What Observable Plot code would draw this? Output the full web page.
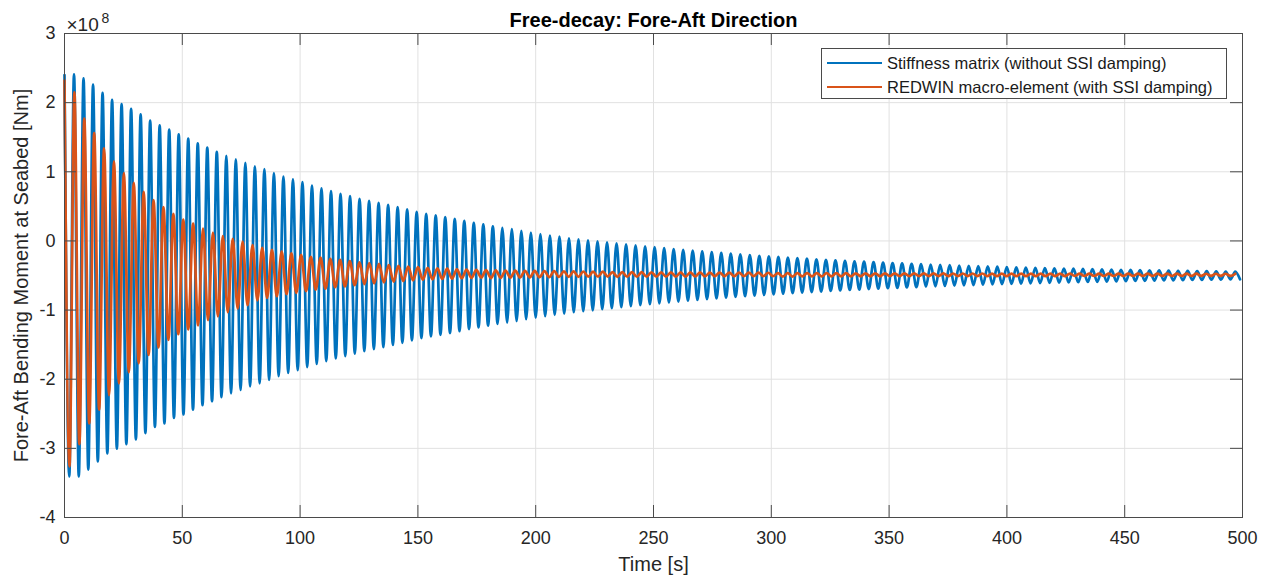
<!DOCTYPE html>
<html>
<head>
<meta charset="utf-8">
<script src="https://cdn.jsdelivr.net/npm/d3@7"></script>
<script src="https://cdn.jsdelivr.net/npm/@observablehq/plot@0.6"></script>
<style>
  html, body { margin: 0; padding: 0; background: #fff; }
  #wrap { position: relative; width: 1269px; height: 578px; font-family: "Liberation Sans", Arial, Helvetica, sans-serif; }
  #legend { position: absolute; left: 821px; top: 48px; width: 406px; height: 51px; border: 1px solid #4a4a4a; background: #fff; box-sizing: border-box; }
  .lrow { position: absolute; left: 0; height: 20px; display: flex; align-items: center; font-size: 16.5px; color: #1a1a1a; white-space: nowrap; }
  .lrow svg { margin-left: 5px; margin-right: 5px; }
</style>
</head>
<body>
<div id="wrap"></div>
<script>
// ---- Axis ticks ----
const xTicks = [0, 50, 100, 150, 200, 250, 300, 350, 400, 450, 500];
const yTicks = [-4, -3, -2, -1, 0, 1, 2, 3];

// ---- Series labels / colours ----
const seriesNames = ["Stiffness matrix (without SSI damping)", "REDWIN macro-element (with SSI damping)"];
const seriesColors = ["#0072BD", "#D95319"];

// ---- Blue: stiffness matrix, successive maxima / minima (x10^8 Nm) ----
const bluePeriodHalf = 2.02; // s between successive extrema
const blueUpper = [2.40, 2.41, 2.35, 2.26, 2.14, 2.04, 1.98, 1.91, 1.83, 1.74,
  1.67, 1.61, 1.54, 1.48, 1.41, 1.35, 1.29, 1.23, 1.18, 1.13,
  1.08, 1.04, 0.98, 0.93, 0.89, 0.85, 0.80, 0.76, 0.72, 0.68,
  0.65, 0.61, 0.58, 0.55, 0.52, 0.49, 0.456, 0.42, 0.39, 0.37,
  0.345, 0.32, 0.29, 0.26, 0.24, 0.21, 0.19, 0.17, 0.146, 0.12,
  0.10, 0.078, 0.063, 0.039, 0.024, 0.01, -0.005, -0.02, -0.034, -0.049,
  -0.063, -0.077, -0.091, -0.104, -0.117, -0.129, -0.141, -0.152, -0.163, -0.174,
  -0.185, -0.195, -0.205, -0.214, -0.223, -0.232, -0.241, -0.249, -0.257, -0.265,
  -0.272, -0.280, -0.287, -0.294, -0.300, -0.307, -0.313, -0.319, -0.325, -0.330,
  -0.336, -0.341, -0.346, -0.351, -0.356, -0.360, -0.365, -0.369, -0.373, -0.377,
  -0.381, -0.385, -0.389, -0.392, -0.396, -0.399, -0.402, -0.405, -0.408, -0.411,
  -0.414, -0.417, -0.420, -0.422, -0.425, -0.427, -0.429, -0.432, -0.434, -0.436,
  -0.438, -0.440, -0.442, -0.444];
const blueLower = [-3.405, -3.405, -3.307, -3.19, -3.073, -3.005, -2.94, -2.87, -2.78, -2.69,
  -2.64, -2.56, -2.51, -2.44, -2.375, -2.32, -2.26, -2.205, -2.155, -2.105,
  -2.06, -2.01, -1.955, -1.91, -1.87, -1.825, -1.78, -1.74, -1.70, -1.665,
  -1.63, -1.595, -1.565, -1.535, -1.505, -1.473, -1.438, -1.405, -1.38, -1.358,
  -1.333, -1.305, -1.275, -1.25, -1.225, -1.20, -1.18, -1.158, -1.133, -1.11,
  -1.089, -1.07, -1.051, -1.031, -1.017, -1.003, -0.988, -0.973, -0.959, -0.944,
  -0.930, -0.916, -0.903, -0.890, -0.877, -0.865, -0.854, -0.843, -0.832, -0.821,
  -0.810, -0.800, -0.791, -0.782, -0.773, -0.764, -0.755, -0.747, -0.739, -0.732,
  -0.724, -0.717, -0.710, -0.703, -0.697, -0.690, -0.684, -0.678, -0.673, -0.667,
  -0.662, -0.657, -0.652, -0.647, -0.642, -0.638, -0.633, -0.629, -0.625, -0.621,
  -0.617, -0.613, -0.610, -0.606, -0.603, -0.600, -0.597, -0.594, -0.591, -0.588,
  -0.585, -0.582, -0.579, -0.577, -0.574, -0.572, -0.570, -0.567, -0.565, -0.563,
  -0.561, -0.559, -0.557, -0.555];

// ---- Orange: REDWIN macro-element, successive maxima / minima (x10^8 Nm) ----
// first stage (large amplitude, slightly longer period)
const orangeHalf1 = 2.1;
const orangeUpper1 = [2.32, 2.15, 1.77, 1.56, 1.34, 1.15, 0.98, 0.84, 0.71, 0.59,
  0.49, 0.39, 0.31, 0.25, 0.18, 0.12, 0.07, 0.03, -0.01];
const orangeLower1 = [-3.26, -2.94, -2.64, -2.44, -2.23, -2.06, -1.90, -1.77, -1.65, -1.54,
  -1.43, -1.35, -1.28, -1.22, -1.145, -1.09, -1.03, -0.98, -0.93];
// second stage (small amplitude)
const orangeStart2 = 79.8;
const orangeHalf2 = 2.065;
const orangeUpper2 = [-0.06, -0.10, -0.13, -0.155, -0.18, -0.20, -0.23, -0.24, -0.26, -0.275,
  -0.29, -0.31, -0.32, -0.33, -0.35, -0.36, -0.37, -0.38, -0.39, -0.395,
  -0.40, -0.41, -0.415, -0.42, -0.422, -0.425, -0.428, -0.430, -0.432, -0.434,
  -0.436, -0.438, -0.440, -0.441, -0.442, -0.444, -0.445, -0.451, -0.451, -0.452,
  -0.452, -0.453, -0.454, -0.454, -0.455, -0.455, -0.456, -0.457, -0.457, -0.458,
  -0.458, -0.459, -0.459, -0.460, -0.465, -0.465, -0.466, -0.466, -0.466, -0.467,
  -0.467, -0.467, -0.468, -0.468, -0.468, -0.469, -0.469, -0.469, -0.470, -0.470,
  -0.470, -0.470, -0.471, -0.471, -0.471, -0.471, -0.472, -0.472, -0.472, -0.472,
  -0.472, -0.472, -0.472, -0.472, -0.472, -0.473, -0.473, -0.473, -0.473, -0.473,
  -0.473, -0.473, -0.473, -0.474, -0.474, -0.474, -0.474, -0.474, -0.475, -0.475,
  -0.475, -0.475];
const orangeLower2 = [-0.86, -0.825, -0.80, -0.77, -0.75, -0.725, -0.705, -0.69, -0.67, -0.658,
  -0.64, -0.625, -0.615, -0.60, -0.588, -0.58, -0.57, -0.56, -0.555, -0.55,
  -0.545, -0.54, -0.535, -0.53, -0.537, -0.534, -0.531, -0.529, -0.527, -0.525,
  -0.523, -0.521, -0.520, -0.519, -0.517, -0.516, -0.515, -0.519, -0.518, -0.518,
  -0.517, -0.516, -0.516, -0.515, -0.515, -0.514, -0.514, -0.513, -0.512, -0.512,
  -0.511, -0.511, -0.510, -0.510, -0.515, -0.515, -0.514, -0.514, -0.514, -0.513,
  -0.513, -0.513, -0.512, -0.512, -0.512, -0.511, -0.511, -0.511, -0.510, -0.510,
  -0.510, -0.510, -0.509, -0.509, -0.509, -0.509, -0.508, -0.508, -0.508, -0.508,
  -0.508, -0.508, -0.508, -0.508, -0.507, -0.507, -0.507, -0.507, -0.507, -0.507,
  -0.506, -0.506, -0.506, -0.506, -0.506, -0.506, -0.505, -0.505, -0.505, -0.505,
  -0.505];

// ---- build tables of extrema ----
function extrema(upper, lower, t0, half) {
  const out = [];
  for (let i = 0; i < upper.length; i++) {
    out.push({t: t0 + 2 * i * half, v: upper[i]});
    if (i < lower.length) out.push({t: t0 + (2 * i + 1) * half, v: lower[i]});
  }
  return out;
}
const blue = extrema(blueUpper, blueLower, 0, bluePeriodHalf);
const orange = extrema(orangeUpper1, orangeLower1, 0, orangeHalf1)
  .concat(extrema(orangeUpper2, orangeLower2, orangeStart2, orangeHalf2));

const W = 1269, H = 578, mL = 64, mR = 27, mT = 33, mB = 61;
const fw = W - mL - mR, fh = H - mT - mB, tk = 12;
const axisColor = "#4a4a4a";
const textColor = "#262626";

const chart = Plot.plot({
  width: W, height: H,
  marginLeft: mL, marginRight: mR, marginTop: mT, marginBottom: mB,
  style: {fontFamily: "'Liberation Sans', Arial, Helvetica, sans-serif", fontSize: "18px", color: textColor, background: "#fff", overflow: "visible"},
  x: {domain: [0, 500]},
  y: {domain: [-4, 3]},
  marks: [
    Plot.gridX(xTicks, {stroke: "#e1e1e1", strokeOpacity: 1}),
    Plot.gridY(yTicks, {stroke: "#e1e1e1", strokeOpacity: 1}),
    Plot.line(blue, {x: "t", y: "v", stroke: seriesColors[0], strokeWidth: 2.7, curve: "monotone-x"}),
    Plot.line(orange, {x: "t", y: "v", stroke: seriesColors[1], strokeWidth: 2.7, curve: "monotone-x"}),
    Plot.tickX(xTicks, {x: d => d, insetTop: fh - tk, stroke: axisColor}),
    Plot.tickX(xTicks, {x: d => d, insetBottom: fh - tk, stroke: axisColor}),
    Plot.tickY(yTicks, {y: d => d, insetRight: fw - tk, stroke: axisColor}),
    Plot.tickY(yTicks, {y: d => d, insetLeft: fw - tk, stroke: axisColor}),
    Plot.frame({stroke: axisColor}),
    Plot.axisX(xTicks, {tickSize: 0, tickPadding: 14, label: null, fontSize: 18, tickFormat: d => String(d), fill: textColor}),
    Plot.axisY(yTicks, {tickSize: 0, tickPadding: 9, label: null, fontSize: 18, tickFormat: d => String(d), fill: textColor}),
    Plot.text(["Free-decay: Fore-Aft Direction"], {frameAnchor: "top", text: d => d, lineAnchor: "bottom", dy: -7, fontSize: 20, fontWeight: "bold", fill: "#000"}),
    Plot.text(["\u00d710"], {frameAnchor: "top-left", text: d => d, textAnchor: "start", lineAnchor: "bottom", dx: 2, dy: -3, fontSize: 19, fill: textColor}),
    Plot.text(["8"], {frameAnchor: "top-left", text: d => d, textAnchor: "start", lineAnchor: "bottom", dx: 37, dy: -11, fontSize: 14, fill: textColor}),
    Plot.text(["Time [s]"], {frameAnchor: "bottom", text: d => d, lineAnchor: "bottom", dy: 53, fontSize: 20, fill: textColor}),
    Plot.text(["Fore-Aft Bending Moment at Seabed [Nm]"], {frameAnchor: "left", text: d => d, textAnchor: "middle", lineAnchor: "middle", rotate: -90, dx: -43, fontSize: 20, fill: textColor})
  ]
});

const wrap = document.getElementById("wrap");
wrap.appendChild(chart);

// legend
const legend = document.createElement("div");
legend.id = "legend";
seriesNames.forEach((name, i) => {
  const row = document.createElement("div");
  row.className = "lrow";
  row.style.top = (4 + i * 24) + "px";
  row.innerHTML = `<svg width="55" height="6"><line x1="0" x2="55" y1="3" y2="3" stroke="${seriesColors[i]}" stroke-width="2"/></svg><span>${name}</span>`;
  legend.appendChild(row);
});
wrap.appendChild(legend);
</script>
</body>
</html>
